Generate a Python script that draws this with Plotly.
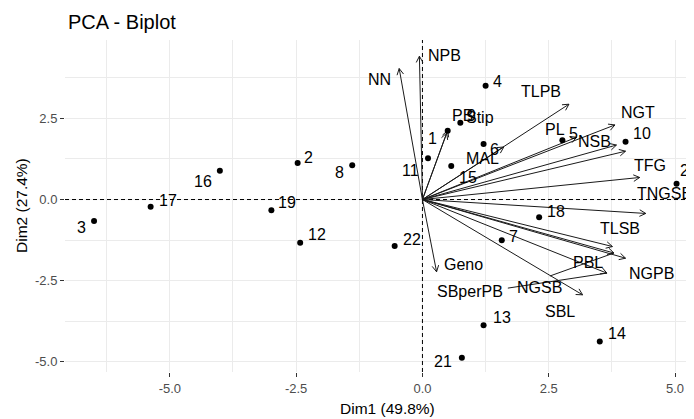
import math
import plotly.graph_objects as go

# ---------------- data ----------------
obs_labels = [str(i) for i in range(1, 23)]
obs_dim1 = [0.50, -2.47, -6.50, 1.25, 2.77, 1.21, 1.57, -1.39, 0.75, 4.02, 0.11,
            -2.42, 1.21, 3.51, 0.57, -4.01, -5.38, 2.31, -2.99, 5.03, 0.78, -0.55]
obs_dim2 = [2.12, 1.13, -0.66, 3.51, 1.83, 1.71, -1.26, 1.06, 2.37, 1.78, 1.27,
            -1.33, -3.88, -4.38, 1.03, 0.89, -0.22, -0.55, -0.33, 0.49, -4.88, -1.43]

var_names = ["NN", "NPB", "PB", "Stip", "MAL", "TLPB", "PL", "NGT", "NSB", "TFG",
             "TNGSB", "TLSB", "PBL", "NGSB", "NGPB", "SBperPB", "SBL", "Geno"]
var_dim1 = [-0.46, -0.06, 0.50, 0.48, 1.61, 2.90, 3.05, 3.81, 3.84, 4.02,
            4.30, 4.42, 3.76, 3.79, 4.02, 3.65, 3.17, 0.28]
var_dim2 = [4.04, 4.42, 2.13, 2.05, 1.62, 2.94, 1.92, 2.30, 1.68, 1.49,
            0.68, -0.43, -1.45, -1.65, -1.81, -2.27, -2.94, -2.23]

x_ticks = [-5.0, -2.5, 0.0, 2.5, 5.0]
x_tick_labels = ["-5.0", "-2.5", "0.0", "2.5", "5.0"]
y_ticks = [-5.0, -2.5, 0.0, 2.5]
y_tick_labels = ["-5.0", "-2.5", "0.0", "2.5"]

title_text = "PCA - Biplot"
x_title = "Dim1 (49.8%)"
y_title = "Dim2 (27.4%)"

# ---------------- layout / style ----------------
PAGE_OFF = 8                      # default body margin of the html page
PL_LEFT, PL_TOP = 65, 40          # plot-area position on the page
PW, PH = 629, 332
ML, MT, MR, MB = PL_LEFT - PAGE_OFF, PL_TOP - PAGE_OFF, 0, 47
W, H = ML + PW + MR, MT + PH + MB
XR = [-7.075, 5.375]
YR = [-5.32, 4.92]
SX = PW / (XR[1] - XR[0])   # px per unit
SY = PH / (YR[1] - YR[0])


def px_x(page_x):
    return (page_x - PL_LEFT) / PW


def px_y(page_y):
    return 1 - (page_y - PL_TOP) / PH


FONT = "Liberation Sans, Arial, sans-serif"
LABEL_SIZE = 16

# label offsets in pixels (dx right, dy down) from the point / arrow tip (repelled labels)
obs_label_offsets = {
    "1": (-15, 8), "2": (11, -5), "3": (-13, 7), "4": (12, -4), "5": (11, -7),
    "6": (11, 5), "7": (12, -4), "8": (-13, 7), "9": (11, -7), "10": (16, -8),
    "11": (-18, 12), "12": (17, -8), "13": (18, -8), "14": (17, -8), "15": (17, 11),
    "16": (-17, 11), "17": (17, -6), "18": (17, -6), "19": (16, -8), "20": (12, -13),
    "21": (-19, 4), "22": (17, -6),
}
var_label_offsets = {
    "NN": (-20, 11), "NPB": (25, -1), "PB": (15, -15), "Stip": (33, -16),
    "MAL": (-21, 12), "TLPB": (-28, -13), "PL": (-22, -8), "NGT": (23, -12),
    "NSB": (-22, -4), "TFG": (24, 14), "TNGSB": (25, 16), "TLSB": (-26, 15),
    "PBL": (-24, 16), "NGSB": (-74, 34), "NGPB": (26, 15), "SBperPB": (-137, 18),
    "SBL": (-23, 17), "Geno": (27, -7),
}
# repel segments: start offset (px) relative to arrow tip
segment_offsets = {"NGSB": (-64, 23), "SBperPB": (-99, 15)}

fig = go.Figure()

# dashed reference lines through the origin
ref_line = dict(color="black", width=1, dash="4px,3px")
fig.add_trace(go.Scatter(x=XR, y=[0, 0], mode="lines", line=ref_line,
                         hoverinfo="skip", showlegend=False))
fig.add_trace(go.Scatter(x=[0, 0], y=YR, mode="lines", line=ref_line,
                         hoverinfo="skip", showlegend=False))

# arrows (variables)
ax_x, ax_y = [], []
head_len, head_ang = 7.0, math.radians(28)
for vx, vy in zip(var_dim1, var_dim2):
    ax_x += [0, vx, None]
    ax_y += [0, vy, None]
    px, py = vx * SX, vy * SY
    ang = math.atan2(py, px)
    for s in (1, -1):
        a = ang + math.pi + s * head_ang
        hx = vx + head_len * math.cos(a) / SX
        hy = vy + head_len * math.sin(a) / SY
        ax_x += [vx, hx, None]
        ax_y += [vy, hy, None]
for name, (dx, dy) in segment_offsets.items():
    i = var_names.index(name)
    ax_x += [var_dim1[i] + dx / SX, var_dim1[i], None]
    ax_y += [var_dim2[i] - dy / SY, var_dim2[i], None]

fig.add_trace(go.Scatter(x=ax_x, y=ax_y, mode="lines",
                         line=dict(color="#1a1a1a", width=1),
                         hoverinfo="skip", showlegend=False))

# points (individuals)
fig.add_trace(go.Scatter(x=obs_dim1, y=obs_dim2, mode="markers",
                         marker=dict(color="black", size=6),
                         text=obs_labels, showlegend=False))

annotations = []
for lab, x, y in zip(obs_labels, obs_dim1, obs_dim2):
    dx, dy = obs_label_offsets[lab]
    annotations.append(dict(x=x, y=y, xref="x", yref="y", text=lab, showarrow=False,
                            xshift=dx, yshift=-dy,
                            font=dict(family=FONT, size=LABEL_SIZE, color="black")))
for lab, x, y in zip(var_names, var_dim1, var_dim2):
    dx, dy = var_label_offsets[lab]
    annotations.append(dict(x=x, y=y, xref="x", yref="y", text=lab, showarrow=False,
                            xshift=dx, yshift=-dy,
                            font=dict(family=FONT, size=LABEL_SIZE, color="black")))

# title and axis titles
annotations.append(dict(x=px_x(66), y=px_y(22), xref="paper", yref="paper",
                        xanchor="left", yanchor="middle", showarrow=False,
                        text=title_text, font=dict(family=FONT, size=20, color="black")))
annotations.append(dict(x=px_x(387), y=px_y(408), xref="paper", yref="paper",
                        xanchor="center", yanchor="middle", showarrow=False,
                        text=x_title, font=dict(family=FONT, size=15.5, color="black")))
annotations.append(dict(x=px_x(21), y=px_y(206), xref="paper", yref="paper",
                        xanchor="center", yanchor="middle", showarrow=False,
                        textangle=-90, text=y_title,
                        font=dict(family=FONT, size=15.5, color="black")))

axis_common = dict(
    showgrid=True, gridcolor="#EBEBEB", gridwidth=1,
    zeroline=False, showline=False,
    ticks="outside", ticklen=4, tickwidth=1, tickcolor="#333333",
    tickfont=dict(family=FONT, size=13, color="#4D4D4D"),
)

fig.update_layout(
    width=W, height=H,
    margin=dict(l=ML, r=MR, t=MT, b=MB),
    paper_bgcolor="white", plot_bgcolor="white",
    showlegend=False,
    xaxis=dict(range=XR, tickvals=x_ticks, ticktext=x_tick_labels, **axis_common,
               minor=dict(showgrid=True, gridcolor="#EBEBEB", gridwidth=0.6,
                          tickvals=[-6.25, -3.75, -1.25, 1.25, 3.75])),
    yaxis=dict(range=YR, tickvals=y_ticks, ticktext=y_tick_labels, **axis_common,
               minor=dict(showgrid=True, gridcolor="#EBEBEB", gridwidth=0.6,
                          tickvals=[-3.75, -1.25, 1.25, 3.75])),
    annotations=annotations,
)

fig.write_html("out.html")
